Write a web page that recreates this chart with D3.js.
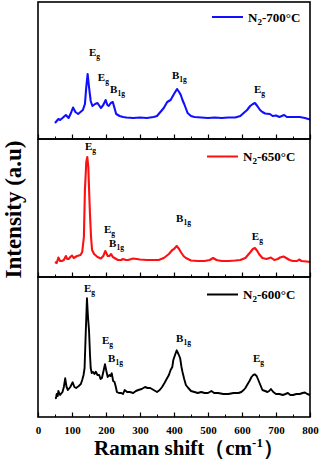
<!DOCTYPE html>
<html>
<head>
<meta charset="utf-8">
<script src="https://cdn.jsdelivr.net/npm/d3@7"></script>
<style>
  body { margin: 0; background: #fff; }
  text { font-family: "Liberation Serif", "DejaVu Serif", serif; font-weight: bold; }
</style>
</head>
<body>
<div id="chart"></div>
<script>
// N2-700°C (blue, top panel)
const shift700 = [50,60,65,72,82,90,97,103,110,118,125,132,138,142,146,150,155,160,168,175,185,192,199,204,208,214,220,225,230,240,250,260,280,300,320,340,350,360,370,380,390,400,409,415,420,425,430,440,450,460,480,500,520,540,560,580,595,605,615,624,632,638,645,653,660,668,682,690,700,710,724,732,740,755,770,785,795,800];
const int700 = [16,20,19,21,24,21,26,31.5,27,25,27,29,35,52,65,52,38,33,35,36,31,34,39,34,33,36,37,31,25,23,22,21.5,21,21.5,21,22,23,27,31,37,39,45,50,47,44,39,35,26,23,22,21.5,21,21.5,21,21.5,21.5,23,26,29,33,35,36,33,29,27,25.5,25,23,23.5,22,24,22,22,22,22,21,20,19.5];

// N2-650°C (red, middle panel)
const shift650 = [50,55,60,65,70,76,82,86,90,95,100,105,110,115,120,125,130,135,138,142,145,148,151,153,156,159,165,175,185,192,198,205,210,215,220,225,235,245,250,258,265,280,290,300,320,340,355,370,385,395,400,408,415,420,428,435,450,470,490,505,515,525,540,560,580,595,610,620,625,632,638,645,650,660,672,685,695,705,712,722,730,740,750,762,768,775,790,800];
const int650 = [15,14,19.5,16,16,17,21,18,18,20,21.5,19,20,21,21.5,22,25,40,87,115,120,110,80,62,40,27,23,20,18.5,21,26,21,21,23,20,19,17,17,18,17,17,18.5,18,17.5,17,17,17,19,23,27,28,31,28,25,21,19,16.5,16,16,17,19,17,16,16,16.5,17,19,23,25,28,29,26,23,19,18,19.5,17,18,19.5,20.5,19,17,16,16,17.5,16,15.5,15];

// N2-600°C (black, bottom panel)
const shift600 = [50,53,55,58,60,65,72,76,80,84,88,95,102,107,112,120,126,130,134,137,140,144,147,150,153,155,158,162,166,170,175,180,184,188,192,197,201,205,210,213,217,221,225,229,232,238,245,250,255,262,270,280,288,295,305,315,322,330,340,350,358,365,372,380,385,390,395,398,403,408,413,418,422,425,430,435,442,450,460,470,480,490,500,510,518,530,545,560,575,590,598,605,610,615,622,628,633,638,643,648,654,660,668,675,680,685,692,700,710,720,728,735,742,750,760,770,778,785,792,800];
const int600 = [18.7,19,23,21,26,22,25,30,38.7,30,27,30,34.7,30,29,31,33,37,42,49,80,118.7,100,87,62,49,44,45,43,45.3,42,42,38,39,45,52.7,46,40,42,41,43.7,36,35,30,25,24,24,23,27,25,25,24,26,27,28,30,29,29,27,25,27,30,34,39,42,47,50,57,62,66.7,63,59,50,45,38,32,29,26,25,24,25,24,24,26,24,24,23,23,24,24,25,27,29,32,36,40,42,42.7,41,37,32,27,26,25,26,28,25,23,23,22,23,24,22,22,23,23,24,24.5,23,22];

const seriesNames = ["N2-700°C", "N2-650°C", "N2-600°C"];
const seriesColors = ["#1010ff", "#ff1010", "#000000"];

// peak labels: [main, subscript, shift, intensity]
const peaks700 = [["E","g",150,83],["E","g",176,58],["B","1g",212,46],["B","1g",394,60],["E","g",635,46]];
const peaks650 = [["E","g",138,127],["E","g",194,44],["B","1g",209,30],["B","1g",406,55],["E","g",629,37]];
const peaks600 = [["E","g",135,125],["E","g",188,73],["B","1g",206,55],["B","1g",406,75],["E","g",632,55]];

const xTicks = [0,100,200,300,400,500,600,700,800];
const xMinor = [50,150,250,350,450,550,650,750];

const width = 320, height = 462;
const left = 38, right = 310;
const panelTops = [2, 139, 277];
const panelBottoms = [139, 277, 417];

const panels = [
  { xs: shift700, ys: int700, peaks: peaks700 },
  { xs: shift650, ys: int650, peaks: peaks650 },
  { xs: shift600, ys: int600, peaks: peaks600 }
];

const svg = d3.select("#chart").append("svg")
  .attr("width", width)
  .attr("height", height);

const x = d3.scaleLinear().domain([0, 800]).range([left, right]);

panels.forEach((p, i) => {
  const top = panelTops[i], bottom = panelBottoms[i];
  const y = d3.scaleLinear().domain([0, bottom - top]).range([bottom, top]);
  const g = svg.append("g");

  const pts = p.xs.map((s, k) => [s, p.ys[k]]);
  const line = d3.line().x(d => x(d[0])).y(d => y(d[1]));

  g.append("path")
    .datum(pts)
    .attr("fill", "none")
    .attr("stroke", seriesColors[i])
    .attr("stroke-width", i === 2 ? 1.9 : 2.1)
    .attr("stroke-linejoin", "round")
    .attr("d", line);

  // inward ticks
  g.append("g")
    .attr("transform", `translate(0,${bottom})`)
    .call(d3.axisBottom(x).tickValues(xTicks).tickSize(-4.5).tickFormat(""))
    .call(a => a.select(".domain").remove())
    .call(a => a.selectAll("line").attr("stroke-width", 1.2));
  g.append("g")
    .attr("transform", `translate(0,${bottom})`)
    .call(d3.axisBottom(x).tickValues(xMinor).tickSize(-2.5).tickFormat(""))
    .call(a => a.select(".domain").remove())
    .call(a => a.selectAll("line").attr("stroke-width", 1));

  // frame
  g.append("rect")
    .attr("x", left).attr("y", top)
    .attr("width", right - left).attr("height", bottom - top)
    .attr("fill", "none")
    .attr("stroke", "#000")
    .attr("stroke-width", 1.6);

  // peak labels
  const lab = g.append("g").selectAll("text")
    .data(p.peaks)
    .join("text")
    .attr("x", d => x(d[2]))
    .attr("y", d => y(d[3]))
    .attr("font-size", 11);
  lab.append("tspan").text(d => d[0]);
  lab.append("tspan").attr("font-size", 7.5).attr("dy", 2.5).text(d => d[1]);

  // legend
  const ly = top + (i === 0 ? 15 : 17.5);
  const lx0 = i === 0 ? 212 : 207;
  g.append("line")
    .attr("x1", lx0).attr("x2", lx0 + 31)
    .attr("y1", ly).attr("y2", ly)
    .attr("stroke", seriesColors[i])
    .attr("stroke-width", 2);
  const lt = g.append("text")
    .attr("x", lx0 + 36)
    .attr("y", ly + 4.5)
    .attr("font-size", 13);
  const name = seriesNames[i];
  lt.append("tspan").text(name[0]);
  lt.append("tspan").attr("font-size", 9).attr("dy", 3).text(name[1]);
  lt.append("tspan").attr("dy", -3).text(name.slice(2));
});

// tick labels on bottom panel
svg.append("g")
  .attr("transform", `translate(0,${panelBottoms[2]})`)
  .call(d3.axisBottom(x).tickValues(xTicks).tickSize(0).tickPadding(9))
  .call(a => a.select(".domain").remove())
  .call(a => a.selectAll("text")
    .attr("font-size", 11)
    .attr("font-family", "Liberation Serif, serif")
    .attr("font-weight", "bold")
    .attr("fill", "#000"));

// axis titles
const xt = svg.append("text")
  .attr("x", 189)
  .attr("y", 455)
  .attr("text-anchor", "middle")
  .attr("font-size", 21);
xt.append("tspan").text("Raman shift（cm");
xt.append("tspan").attr("font-size", 13).attr("dy", -8).text("-1");
xt.append("tspan").attr("dy", 8).text("）");

svg.append("text")
  .attr("transform", `translate(21,${(panelTops[0] + panelBottoms[2]) / 2}) rotate(-90)`)
  .attr("text-anchor", "middle")
  .attr("font-size", 23)
  .text("Intensity (a.u)");
</script>
</body>
</html>
